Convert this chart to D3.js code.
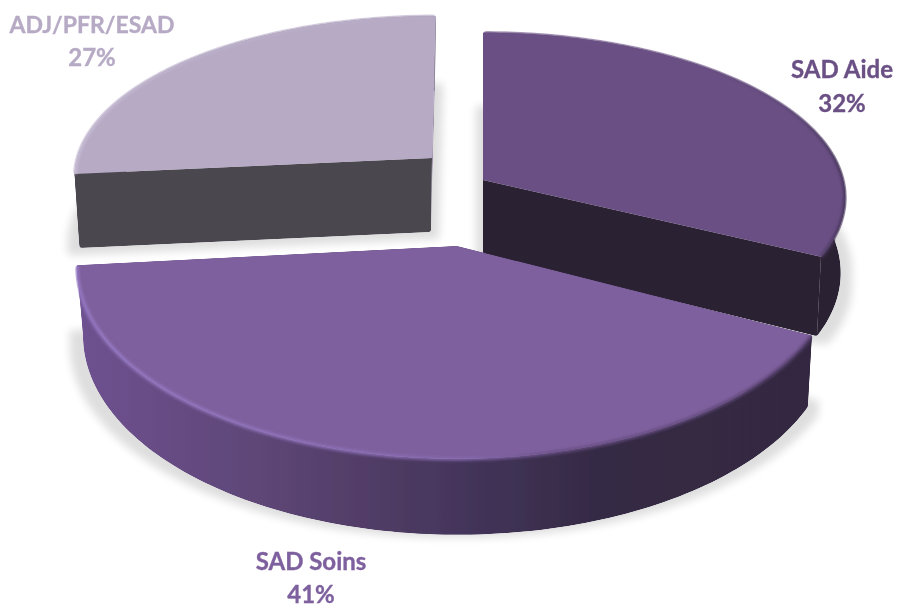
<!DOCTYPE html>
<html><head><meta charset="utf-8">
<style>html,body{margin:0;padding:0;background:#fff}svg{display:block}</style>
<script src="https://cdn.jsdelivr.net/npm/d3@7/dist/d3.min.js"></script>
</head><body><div id="chart"></div>
<script>
// --- data
const categories = ["SAD Aide", "SAD Soins", "ADJ/PFR/ESAD"];
const values = [32.4, 41, 26.6];
const topColors = ["#6a5084", "#7e609e", "#b6aac5"];

// --- layout of each exploded slice (perspective per slice)
const W = 897, H = 608;
const layouts = [
  {ax:483, ay:180, S:360, T:163, p:.107, skew:0,    vx:483, c:.988, d:74, dk:12,
   wall:"#2b2133", endWall:"#2b2133", label:[842,78,112], nameSize:24, draw:1},
  {ax:457, ay:246, S:378, T:190, p:.107, skew:0,    vx:517, c:.986, d:68, dk:8,
   wall:"url(#soinsWall)", endWall:"url(#soinsWall)", label:[311,570,603], nameSize:24, draw:2},
  {ax:432, ay:158, S:355, T:157, p:.107, skew:.028, vx:372, c:.983, d:74, dk:0,
   wall:"#4b4650", endWall:"#9c90aa", label:[92,33,66], nameSize:23, draw:0}
];

const svg = d3.select("#chart").append("svg").attr("width", W).attr("height", H);
const defs = svg.append("defs");

function linGrad(id, stops){
  const g = defs.append("linearGradient").attr("id", id)
    .attr("gradientUnits","userSpaceOnUse").attr("x1",0).attr("x2",W).attr("y1",0).attr("y2",0);
  stops.forEach(s => g.append("stop").attr("offset", s[0]/W).attr("stop-color", s[1]));
}
linGrad("soinsWall", [[80,"#6e5190"],[250,"#5f4778"],[400,"#4d3a62"],[470,"#43345a"],[600,"#352a44"],[810,"#332841"]]);
linGrad("edge0", [[680,"#6a5084"],[790,"#5f4878"],[845,"#45345a"]]);
linGrad("edge1", [[78,"#977ac6"],[300,"#8f72ba"],[470,"#8468ac"],[560,"#684e84"],[811,"#5a4372"]]);
linGrad("edge2", [[75,"#cbc1d8"],[200,"#bdb2cb"],[436,"#b6aac5"]]);

const shadowF = defs.append("filter").attr("id","shadow").attr("filterUnits","userSpaceOnUse")
  .attr("x",0).attr("y",0).attr("width",W).attr("height",H);
shadowF.append("feMorphology").attr("operator","dilate").attr("radius",7);
shadowF.append("feGaussianBlur").attr("stdDeviation",4);
defs.append("filter").attr("id","soft").attr("filterUnits","userSpaceOnUse")
  .attr("x",0).attr("y",0).attr("width",W).attr("height",H)
  .append("feGaussianBlur").attr("stdDeviation",1.4);
const roundF = defs.append("filter").attr("id","round").attr("filterUnits","userSpaceOnUse")
  .attr("x",0).attr("y",0).attr("width",W).attr("height",H);
roundF.append("feGaussianBlur").attr("in","SourceAlpha").attr("stdDeviation",1.8).attr("result","b");
const ct = roundF.append("feComponentTransfer").attr("in","b").attr("result","m");
ct.append("feFuncA").attr("type","linear").attr("slope",5).attr("intercept",-2);
roundF.append("feComposite").attr("in","SourceGraphic").attr("in2","m").attr("operator","in");

const pie = d3.pie().sort(null).value(d => d);
const arcs = pie(values);
const pathLine = d3.line();

function topPoint(l, th){
  const w = 1 + l.p * Math.cos(th);
  const yy = l.ay - l.T * Math.cos(th) / w;
  return [l.ax + l.S * Math.sin(th) / w + l.skew * (l.ay - yy), yy];
}
// point on the underside, below a top point at angle th
const under = (l, q, th) => [l.vx + (q[0] - l.vx) * l.c, q[1] + l.d - l.dk * Math.cos(th)];
const samples = a => d3.range(0, 121).map(i => a.startAngle + (a.endAngle - a.startAngle) * i / 120);

const order = d3.range(values.length).sort((a,b) => layouts[a].draw - layouts[b].draw);

// shadows first
const gShadow = svg.append("g").attr("opacity", .13);
order.forEach(i => {
  const l = layouts[i], a = arcs[i];
  const pts = [[l.ax,l.ay], ...samples(a).map(t => topPoint(l,t))];
  gShadow.append("path").attr("d", pathLine(pts) + "Z").attr("fill","#000")
    .attr("transform", `translate(0,${l.d + l.dk * .5})`).attr("filter","url(#shadow)");
});

order.forEach(i => {
  const l = layouts[i], a = arcs[i];
  const th = samples(a);
  const arcTop = th.map(t => topPoint(l,t));
  const apex = [l.ax, l.ay];
  const apexUnder = under(l, apex, Math.PI / 2);
  const g = svg.append("g").attr("filter","url(#round)");
  // outer wall
  const band = pathLine([...arcTop, ...arcTop.map((p,k) => under(l,p,th[k])).reverse()]) + "Z";
  g.append("path").attr("d", band).attr("fill", l.wall);
  // radial faces
  const n = arcTop.length - 1;
  g.append("path").attr("d", pathLine([apex, arcTop[0], under(l,arcTop[0],th[0]), apexUnder]) + "Z").attr("fill", l.wall);
  g.append("path").attr("d", pathLine([apex, arcTop[n], under(l,arcTop[n],th[n]), apexUnder]) + "Z").attr("fill", l.endWall);
  // top face
  g.append("path").attr("d", pathLine([apex, ...arcTop]) + "Z").attr("fill", topColors[i]);
  // bevelled rim
  g.append("path").attr("d", pathLine(arcTop)).attr("fill","none")
    .attr("stroke", `url(#edge${i})`).attr("stroke-width", 3.4)
    .attr("filter","url(#soft)");
});

// labels
const pct = d3.format(".0f");
const lg = svg.append("g").attr("font-family","Lato, Carlito, sans-serif")
  .attr("font-weight",700).attr("text-anchor","middle").attr("stroke-width",.35);
categories.forEach((c,i) => {
  const [x,y1,y2] = layouts[i].label;
  lg.append("text").attr("x",x).attr("y",y1).attr("font-size",layouts[i].nameSize)
    .attr("fill",topColors[i]).attr("stroke",topColors[i]).text(c);
  lg.append("text").attr("x",x).attr("y",y2).attr("font-size",24)
    .attr("fill",topColors[i]).attr("stroke",topColors[i]).text(pct(values[i]) + "%");
});
</script></body></html>
